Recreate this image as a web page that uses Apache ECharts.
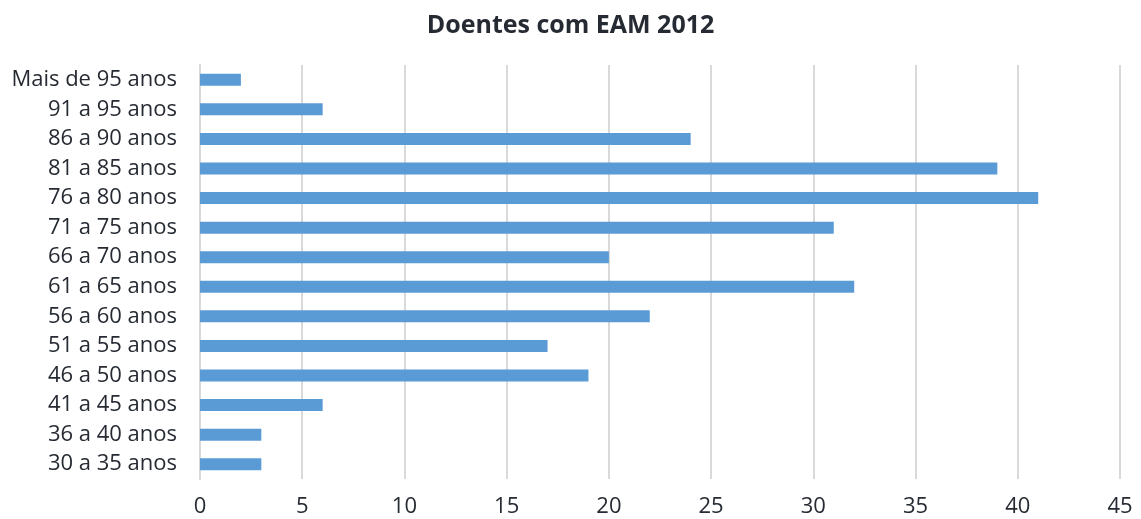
<!DOCTYPE html>
<html>
<head>
<meta charset="utf-8">
<script src="https://cdn.jsdelivr.net/npm/echarts@6/dist/echarts.min.js"></script>
<style>
  html, body { margin: 0; padding: 0; background: #fff; }
  #chart { width: 1141px; height: 519px; }
</style>
</head>
<body>
<div id="chart"></div>
<script>
// faixas etarias, de baixo para cima
const categories = [
  "30 a 35 anos", "36 a 40 anos", "41 a 45 anos", "46 a 50 anos",
  "51 a 55 anos", "56 a 60 anos", "61 a 65 anos", "66 a 70 anos",
  "71 a 75 anos", "76 a 80 anos", "81 a 85 anos", "86 a 90 anos",
  "91 a 95 anos", "Mais de 95 anos"
];
const doentes = [3, 3, 6, 19, 17, 22, 32, 20, 31, 41, 39, 24, 6, 2];
const xTicks = [0, 5, 10, 15, 20, 25, 30, 35, 40, 45];

const textColor = "#262b33";
const font = "'Open Sans', sans-serif";

let chart = echarts.init(document.getElementById("chart"));
let option = {
  animation: false,
  title: {
    text: "Doentes com EAM 2012",
    left: "center",
    top: 8,
    textStyle: { fontFamily: font, fontSize: 25, fontWeight: "bold", color: textColor }
  },
  grid: { left: 200, right: 21, top: 65, bottom: 40, containLabel: false },
  xAxis: {
    type: "value",
    min: xTicks[0],
    max: xTicks[xTicks.length - 1],
    interval: 5,
    axisLine: { show: false },
    axisTick: { show: false },
    splitLine: { lineStyle: { color: "#d9d9d9", width: 2 } },
    axisLabel: { fontFamily: font, fontSize: 22, color: textColor, margin: 17 }
  },
  yAxis: {
    type: "category",
    data: categories,
    axisLine: { show: true, lineStyle: { color: "#d9d9d9", width: 2 } },
    axisTick: { show: false },
    axisLabel: { fontFamily: font, fontSize: 22, color: textColor, margin: 23 }
  },
  series: [
    {
      name: "Doentes",
      type: "bar",
      data: doentes,
      barWidth: 12,
      itemStyle: { color: "#5b9bd5" }
    }
  ]
};
chart.setOption(option);
</script>
</body>
</html>
